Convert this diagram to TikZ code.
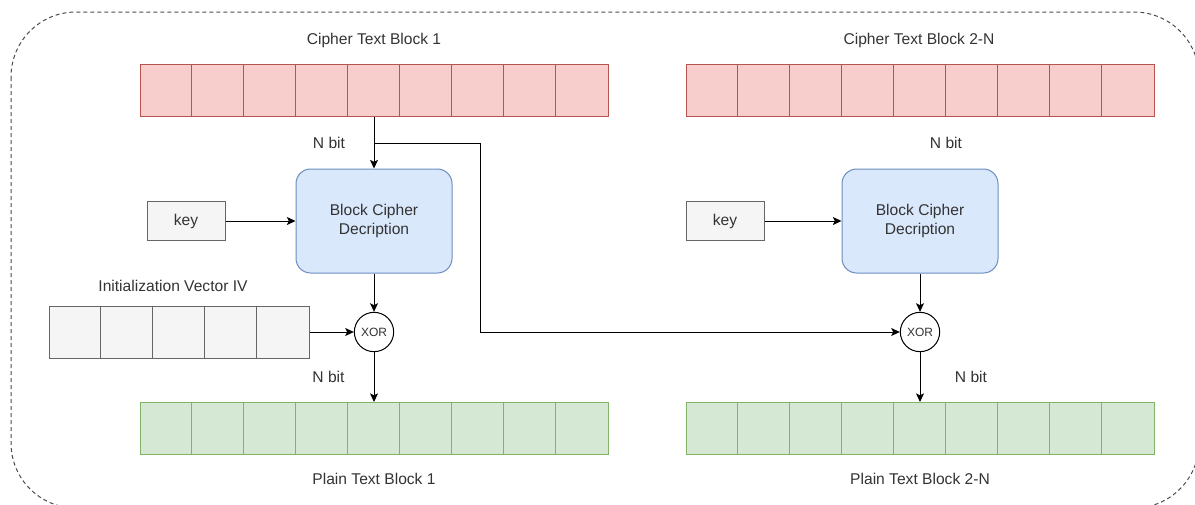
\documentclass[tikz,border=0pt]{standalone}
\usepackage{fontspec}
\setmainfont{Liberation Sans}
\usetikzlibrary{arrows.meta,calc}

\definecolor{redfill}{HTML}{F8CECC}
\definecolor{redline}{HTML}{B85450}
\definecolor{greenfill}{HTML}{D5E8D4}
\definecolor{greenline}{HTML}{82B366}
\definecolor{bluefill}{HTML}{DAE8FC}
\definecolor{blueline}{HTML}{6C8EBF}
\definecolor{grayfill}{HTML}{F5F5F5}
\definecolor{grayline}{HTML}{666666}
\definecolor{txt}{HTML}{333333}
\definecolor{frame}{HTML}{4D4D4D}

\tikzset{
  lbl/.style={font=\fontsize{11.7}{14}\selectfont, text=txt, inner sep=0pt},
  redrow/.style={draw=redline, fill=redfill, line width=0.75pt, minimum height=39pt, inner sep=0pt},
  greenrow/.style={draw=greenline, fill=greenfill, line width=0.75pt, minimum height=39pt, inner sep=0pt},
  grayrow/.style={draw=grayline, fill=grayfill, line width=0.75pt, minimum height=39pt, inner sep=0pt},
  cipherbox/.style={draw=blueline, fill=bluefill, line width=0.75pt, rounded corners=11pt,
    minimum width=117pt, minimum height=78pt, align=center, lbl},
  keybox/.style={draw=grayline, fill=grayfill, line width=0.75pt,
    minimum width=58.5pt, minimum height=29.25pt, lbl},
  xorgate/.style={circle, draw=black, fill=white, line width=0.75pt, minimum size=29.5pt,
    inner sep=0pt, font=\fontsize{9}{10}\selectfont, text=txt},
  flow/.style={draw=black, line width=0.75pt, -{Stealth[length=6.5pt, width=6pt, inset=1.5pt]}},
  outline/.style={draw=frame, line width=0.75pt, dash pattern=on 3pt off 2.25pt, rounded corners=48.75pt},
}

\begin{document}
\begin{tikzpicture}[x=0.75pt, y=-0.75pt]
  \useasboundingbox (0,0) rectangle (1195,504);

  % dashed enclosing frame, partly running off the page
  \begin{scope}
    \clip (0,0) rectangle (1195,504);
    \draw[outline] (11,12) rectangle (1199,508);
  \end{scope}

  % ---------- first block ----------
  \node[lbl] (ct1lbl) at (374,40) {Cipher Text Block 1};
  \node[redrow, minimum width=351pt] (ct1) at (374,90.5) {};
  \foreach \i in {1,...,8}
    \draw[redline, line width=0.75pt] ($(ct1.north west)+(\i*52,0)$) -- ($(ct1.south west)+(\i*52,0)$);

  \node[cipherbox] (bc1) at (374,221) {Block Cipher\\Decription};
  \node[keybox] (k1) at (186,221) {key};

  \node[lbl] (ivlbl) at (173,286) {Initialization Vector IV};
  \node[grayrow, minimum width=195pt] (iv) at (179,332) {};
  \foreach \i in {1,...,4}
    \draw[grayline, line width=0.75pt] ($(iv.north west)+(\i*52,0)$) -- ($(iv.south west)+(\i*52,0)$);

  \node[xorgate] (x1) at (374,332) {XOR};

  \node[greenrow, minimum width=351pt] (pt1) at (374,428.5) {};
  \foreach \i in {1,...,8}
    \draw[greenline, line width=0.75pt] ($(pt1.north west)+(\i*52,0)$) -- ($(pt1.south west)+(\i*52,0)$);
  \node[lbl] (pt1lbl) at (374,479) {Plain Text Block 1};

  \node[lbl] (nb1) at (329,143) {N bit};
  \node[lbl] (nb2) at (328.5,377) {N bit};

  % ---------- following blocks ----------
  \node[lbl] (ct2lbl) at (919,40) {Cipher Text Block 2-N};
  \node[redrow, minimum width=351pt] (ct2) at (920,90.5) {};
  \foreach \i in {1,...,8}
    \draw[redline, line width=0.75pt] ($(ct2.north west)+(\i*52,0)$) -- ($(ct2.south west)+(\i*52,0)$);

  \node[cipherbox] (bc2) at (920,221) {Block Cipher\\Decription};
  \node[keybox] (k2) at (725,221) {key};

  \node[xorgate] (x2) at (920,332) {XOR};

  \node[greenrow, minimum width=351pt] (pt2) at (920,428.5) {};
  \foreach \i in {1,...,8}
    \draw[greenline, line width=0.75pt] ($(pt2.north west)+(\i*52,0)$) -- ($(pt2.south west)+(\i*52,0)$);
  \node[lbl] (pt2lbl) at (920,479) {Plain Text Block 2-N};

  \node[lbl] (nb3) at (946,143) {N bit};
  \node[lbl] (nb4) at (971,377) {N bit};

  % ---------- connectors ----------
  \draw[flow] (ct1.south) -- (bc1.north);
  \draw[flow] (k1.east) -- (bc1.west |- k1.east);
  \draw[flow] (bc1.south) -- (x1.north);
  \draw[flow] (iv.east) -- (x1.west);
  \draw[flow] (x1.south) -- (pt1.north);

  \coordinate (tap) at (374,143);
  \draw[flow] (tap) -- ++(106,0) |- (x2.west);

  \draw[flow] (k2.east) -- (bc2.west |- k2.east);
  \draw[flow] (bc2.south) -- (x2.north);
  \draw[flow] (x2.south) -- (pt2.north);
\end{tikzpicture}
\end{document}
